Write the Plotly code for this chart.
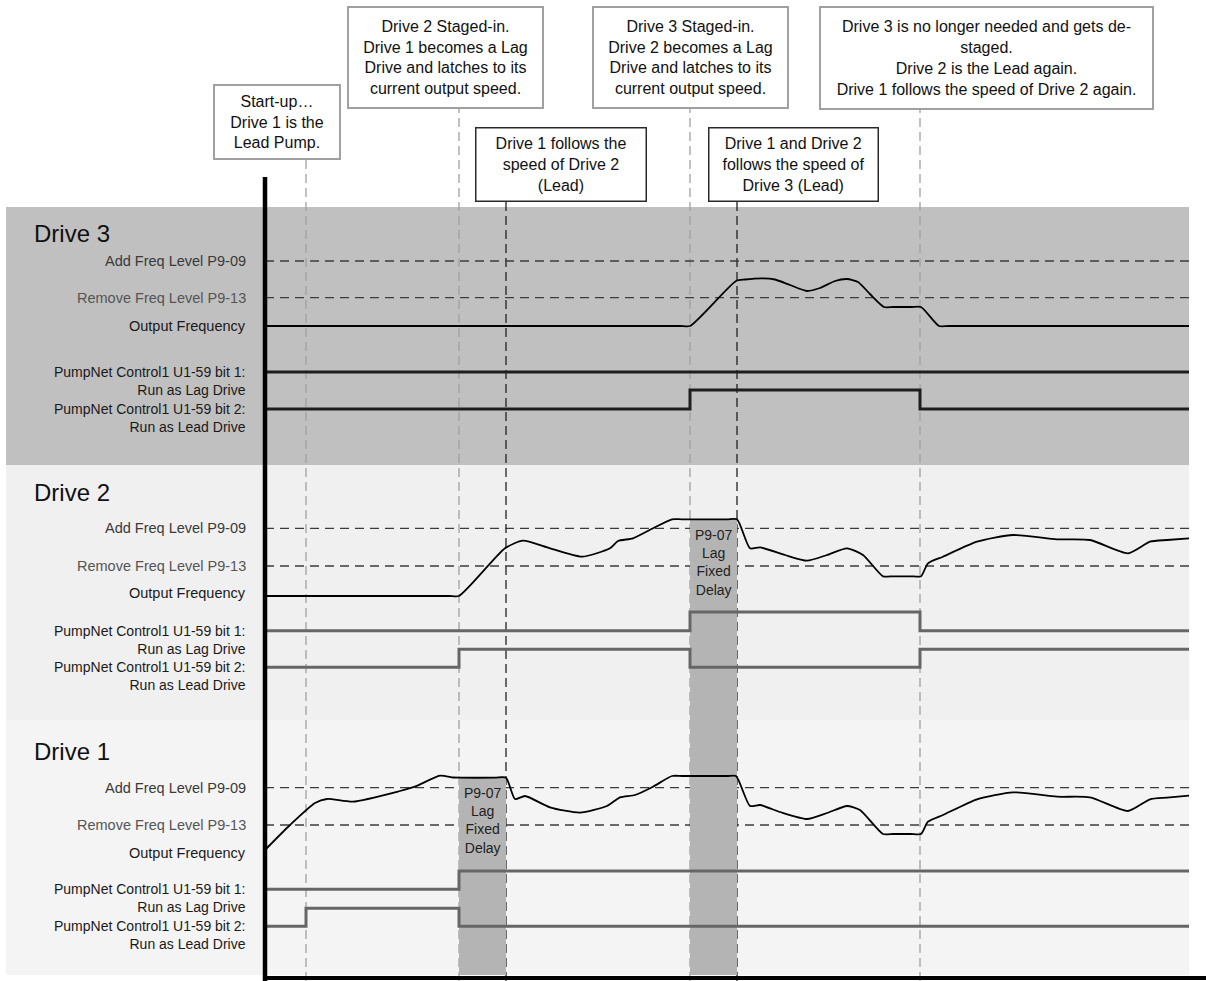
import plotly.graph_objects as go

# ---- data (time in arbitrary units from the start of the chart, levels per drive panel) ----
T_END = 924

drives = ["Drive 1", "Drive 2", "Drive 3"]

# switching instants marked with vertical dashed lines
event_t = [41, 194, 241, 425, 472, 655]
event_dark = [False, False, True, False, True, False]

# threshold levels (Drive 1, Drive 2, Drive 3)
add_level = [187.3, 191.7, 204]
remove_level = [150, 154, 167.3]

# output frequency
d1_t = [0, 25, 50, 62, 88, 135, 150, 175, 188, 194, 230, 241, 250, 260, 285, 315, 342, 355, 370, 388,
        407, 417, 462, 471, 485, 495, 515, 542, 562, 582, 595, 618, 628, 646, 656, 663, 678, 712, 748, 792,
        825, 863, 885, 902, 924]
d1_freq = [125, 150, 172, 176, 173.3, 184, 188.3, 199.3, 197.5, 197.3, 197.3, 197.3, 176, 179, 167.7, 162.3, 169, 177.7, 180, 188.3,
           199, 199, 199, 199, 169, 170, 163, 156, 162, 169, 165, 141, 141, 141, 141, 153.3, 160, 175.7, 182.7, 178.3,
           177.7, 164, 175.7, 177.3, 179.3]

d2_t = [0, 184, 194, 240, 258, 285, 317, 345, 353, 368, 388, 407, 417, 462, 472, 485, 495, 520, 542, 562,
        582, 598, 618, 628, 646, 656, 663, 678, 712, 748, 792, 825, 863, 885, 902, 924]
d2_freq = [124, 124, 124, 171.7, 179.3, 171.7, 163.3, 171.7, 179, 181.7, 191.7, 200.7, 200.7, 200.7, 200.7, 171.7, 172.7, 165, 159.3, 165,
           171.7, 165, 143.7, 143.7, 143.7, 143.7, 156.7, 163.3, 178.3, 185, 180.7, 180, 166.7, 178.3, 180, 181.7]

d3_t = [0, 415, 425, 471, 480, 498, 510, 525, 542, 555, 570, 582, 593, 605, 619, 628, 647, 656, 674, 684, 924]
d3_freq = [139, 139, 139, 184, 185.5, 186.7, 185.5, 180, 174, 177, 184, 186, 183, 171, 158, 158, 158, 158, 139, 139, 139]

# PumpNet Control1 U1-59 bit 1 (run as lag) and bit 2 (run as lead)
d1_lag_t = [0, 194, 924]
d1_lag = [85.7, 104, 104]
d1_lead_t = [0, 41, 194, 924]
d1_lead = [48.7, 66.7, 48.7, 48.7]
d2_lag_t = [0, 425, 655, 924]
d2_lag = [89.3, 108, 89.3, 89.3]
d2_lead_t = [0, 194, 425, 655, 924]
d2_lead = [52.7, 70.7, 52.7, 70.7, 70.7]
d3_lag_t = [0, 924]
d3_lag = [93, 93]
d3_lead_t = [0, 425, 655, 924]
d3_lead = [56, 75, 56, 56]

# P9-07 lag fixed delay windows
delay_drive = [0, 0, 1]
delay_start = [194, 425, 425]
delay_end = [241, 472, 472]
delay_top = [197.3, 255, 200.7]
delay_label_drive = [0, 1]
delay_label_t = [217.5, 448.5]
delay_label_y = [154.3, 158]

notes = [
    "Start-up…<br>Drive 1 is the<br>Lead Pump.",
    "Drive 2 Staged-in.<br>Drive 1 becomes a Lag<br>Drive and latches to its<br>current output speed.",
    "Drive 1 follows the<br>speed of Drive 2<br>(Lead)",
    "Drive 3 Staged-in.<br>Drive 2 becomes a Lag<br>Drive and latches to its<br>current output speed.",
    "Drive 1 and Drive 2<br>follows the speed of<br>Drive 3 (Lead)",
    "Drive 3 is no longer needed and gets de-<br>staged.<br>Drive 2 is the Lead again.<br>Drive 1 follows the speed of Drive 2 again.",
]
note_t = [12, 180.5, 295.5, 425.5, 528, 721.5]

freq_t = [d1_t, d2_t, d3_t]
freq = [d1_freq, d2_freq, d3_freq]
lag_t = [d1_lag_t, d2_lag_t, d3_lag_t]
lag = [d1_lag, d2_lag, d3_lag]
lead_t = [d1_lead_t, d2_lead_t, d3_lead_t]
lead = [d1_lead, d2_lead, d3_lead]

# ---- layout helpers ----
FONT = "Liberation Sans, Arial, sans-serif"
PLOT_TOP, PLOT_BOTTOM = 207, 975


def py(px):
    return (PLOT_BOTTOM - px) / (PLOT_BOTTOM - PLOT_TOP)


yaxes = ["y", "y2", "y3"]
panel_dom = [[0, py(720)], [py(720), py(465)], [py(465), 1]]
panel_rng = [255, 255, 258]
band_color = ["#f4f4f4", "#f0f0f0", "#c0c0c0"]
bit_color = ["#666666", "#666666", "#1e1e1e"]
title_y = [224, 228, 232]
out_label_y = [122.3, 127, 139]
note_y = [122, 57.5, 164, 57.5, 164, 58]
note_w = [126, 195, 171, 195, 170, 333]
note_h = [74, 101, 74, 101, 74, 102]

fig = go.Figure()
shapes = []
annotations = []

for i in range(3):
    ya = yaxes[i]
    # background band
    shapes.append(dict(type="rect", xref="x", yref="paper", x0=-259, x1=T_END,
                       y0=panel_dom[i][0], y1=panel_dom[i][1], fillcolor=band_color[i],
                       line_width=0, layer="below"))
    for lvl in (add_level[i], remove_level[i]):
        fig.add_trace(go.Scatter(x=[0, T_END], y=[lvl, lvl], yaxis=ya, mode="lines",
                                 line=dict(color="#3c3c3c", width=1.3, dash="9px,6px"),
                                 hoverinfo="skip"))
    # lag fixed delay windows sit over the threshold lines
    for d, a, b, top in zip(delay_drive, delay_start, delay_end, delay_top):
        if d != i:
            continue
        fig.add_trace(go.Scatter(x=[a, b, b, a, a], y=[0, 0, top, top, 0], yaxis=ya,
                                 mode="lines", fill="toself", fillcolor="#b4b4b4",
                                 line=dict(width=0), hoverinfo="skip"))
    fig.add_trace(go.Scatter(x=freq_t[i], y=freq[i], yaxis=ya, mode="lines",
                             line=dict(color="#000000", width=1.8, shape="spline", smoothing=0.6),
                             hoverinfo="skip"))
    for tt, vv in ((lag_t[i], lag[i]), (lead_t[i], lead[i])):
        fig.add_trace(go.Scatter(x=tt, y=vv, yaxis=ya, mode="lines",
                                 line=dict(color=bit_color[i], width=3, shape="hv"),
                                 hoverinfo="skip"))

    lab = dict(xref="x", yref=ya, x=-17, xanchor="right", yanchor="middle", showarrow=False,
               align="right")
    annotations += [
        dict(lab, y=add_level[i], text="Add Freq Level P9-09",
             font=dict(family=FONT, size=14.5, color="#3a3a3a")),
        dict(lab, y=remove_level[i], text="Remove Freq Level P9-13",
             font=dict(family=FONT, size=14.5, color="#555555")),
        dict(lab, y=out_label_y[i], text="Output Frequency",
             font=dict(family=FONT, size=14.5, color="#1a1a1a")),
        dict(lab, y=lag[i][0], yshift=-9, text="PumpNet Control1 U1-59 bit 1:<br>Run as Lag Drive",
             font=dict(family=FONT, size=14, color="#1a1a1a")),
        dict(lab, y=lead[i][0], yshift=-9, text="PumpNet Control1 U1-59 bit 2:<br>Run as Lead Drive",
             font=dict(family=FONT, size=14, color="#1a1a1a")),
        dict(xref="x", yref=ya, x=-233, y=title_y[i], xanchor="left", yanchor="middle",
             showarrow=False, text=drives[i], font=dict(family=FONT, size=24, color="#111111")),
    ]

for d, tx, ty in zip(delay_label_drive, delay_label_t, delay_label_y):
    annotations.append(dict(xref="x", yref=yaxes[d], x=tx, y=ty, showarrow=False,
                            text="P9-07<br>Lag<br>Fixed<br>Delay",
                            font=dict(family=FONT, size=14, color="#222222")))

# event markers hanging from the note boxes
for k, t in enumerate(event_t):
    dark = event_dark[k]
    shapes.append(dict(type="line", xref="x", yref="paper", x0=t, x1=t,
                       y0=py(981), y1=py(note_y[k] + note_h[k] / 2),
                       line=dict(color="#222222" if dark else "#a0a0a0", width=1.3,
                                 dash="9px,5px"), layer="below"))

# note boxes
for k, txt in enumerate(notes):
    dark = event_dark[k]
    annotations.append(dict(xref="x", yref="paper", x=note_t[k], y=py(note_y[k]),
                            xanchor="center", yanchor="middle", showarrow=False, text=txt,
                            width=note_w[k] - 2, height=note_h[k] - 2, borderpad=0,
                            bgcolor="#ffffff",
                            bordercolor="#2a2a2a" if dark else "#a0a0a0",
                            borderwidth=1.5 if dark else 2,
                            font=dict(family=FONT, size=16, color="#111111")))

# time axis frame
shapes.append(dict(type="line", xref="x", yref="paper", x0=0, x1=0, y0=py(981), y1=py(177),
                   line=dict(color="#000000", width=4.5), layer="above"))
shapes.append(dict(type="line", xref="x", yref="paper", x0=0, x1=941, y0=py(978), y1=py(978),
                   line=dict(color="#000000", width=4), layer="above"))

fig.update_layout(
    width=1206, height=981,
    margin=dict(l=0, r=0, t=PLOT_TOP, b=981 - PLOT_BOTTOM),
    paper_bgcolor="#ffffff", plot_bgcolor="rgba(0,0,0,0)",
    showlegend=False,
    xaxis=dict(range=[-265, 941], visible=False, fixedrange=True),
    shapes=shapes, annotations=annotations,
)
for i, ya in enumerate(yaxes):
    name = "yaxis" if i == 0 else "yaxis%d" % (i + 1)
    fig.update_layout({name: dict(domain=panel_dom[i], range=[0, panel_rng[i]], anchor="x",
                                  visible=False, fixedrange=True)})

fig.write_html("out.html", config={"displayModeBar": False},
               post_script="document.body.style.margin='0px';")
